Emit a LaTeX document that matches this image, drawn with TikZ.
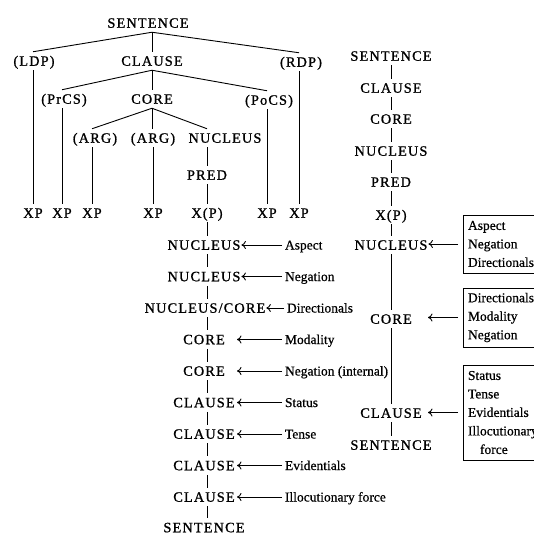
\documentclass[tikz,border=0pt]{standalone}
\usepackage{fontspec}
\setmainfont{Liberation Serif}[FakeBold=0.6]
\newfontfamily\capsfont[LetterSpace=8,FakeBold=1]{Liberation Serif}
\usetikzlibrary{arrows.meta}
\begin{document}
\begin{tikzpicture}[x=1pt,y=-1pt,line width=0.9pt,
  cat/.style={font=\capsfont\fontsize{14.3}{16}\selectfont, inner sep=0pt,
    text height=9.5pt, text depth=0pt, outer xsep=1pt, outer ysep=4.5pt},
  lchain/.style={cat, minimum width=64pt},
  rchain/.style={cat, minimum width=72pt},
  lab/.style={font=\fontsize{13.5}{15}\selectfont, inner sep=0pt,
    text height=9pt, text depth=0pt, outer xsep=3pt, anchor=west},
  listbox/.style={draw, font=\fontsize{13.5}{18.5}\selectfont, align=left,
    text width=76pt, inner xsep=5pt, inner ysep=0pt, outer xsep=5pt, anchor=west},
  arr/.style={-{Computer Modern Rightarrow[length=4.5pt,width=8pt]}}]
\useasboundingbox (0,0) rectangle (534,534);

% ---------- layered clause structure ----------
\node[cat] (ls) at (148,23) {SENTENCE};
\node[cat] (ldp) at (34,61) {(LDP)};
\node[cat] (lcl) at (152,61) {CLAUSE};
\node[cat] (rdp) at (301,62) {(RDP)};
\node[cat] (prcs) at (64,99) {(PrCS)};
\node[cat] (lcore) at (152,99) {CORE};
\node[cat] (pocs) at (269,100) {(PoCS)};
\node[cat] (arg1) at (95,138) {(ARG)};
\node[cat] (arg2) at (153,138) {(ARG)};
\node[cat] (lnuc) at (225,138) {NUCLEUS};
\node[cat] (pred) at (207,175) {PRED};
\node[cat] (xp1) at (33,213) {XP};
\node[cat] (xp2) at (62,213) {XP};
\node[cat] (xp3) at (92,213) {XP};
\node[cat] (xp4) at (153,213) {XP};
\node[cat] (xpp) at (207,213) {X(P)};
\node[cat] (xp5) at (267,213) {XP};
\node[cat] (xp6) at (299,213) {XP};

\draw (ls.south -| lcl.north) -- (xp1.north |- ldp.north);
\draw (ls.south -| lcl.north) -- (lcl.north);
\draw (ls.south -| lcl.north) -- (xp6.north |- rdp.north);
\draw (lcl.south) -- (xp2.north |- prcs.north);
\draw (lcl.south) -- (lcore.north);
\draw (lcl.south) -- (xp5.north |- pocs.north);
\draw (lcore.south) -- (xp3.north |- arg1.north);
\draw (lcore.south) -- (arg2.north -| lcore.south);
\draw (lcore.south) -- (pred.north |- lnuc.north);
\draw (pred.north) -- (pred.north |- lnuc.south);
\draw (xp1.north) -- (xp1.north |- ldp.south);
\draw (xp2.north) -- (xp2.north |- prcs.south);
\draw (xp3.north) -- (xp3.north |- arg1.south);
\draw (xp4.north) -- (xp4.north |- arg2.south);
\draw (xpp.north) -- (pred.south);
\draw (xp5.north) -- (xp5.north |- pocs.south);
\draw (xp6.north) -- (xp6.north |- rdp.south);

% ---------- operator projection, one operator per level ----------
\node[lchain] (c1) at (204,245) {NUCLEUS};
\node[lchain] (c2) at (204,276.5) {NUCLEUS};
\node[lchain] (c3) at (205,308) {NUCLEUS/CORE};
\node[lchain] (c4) at (204,339.5) {CORE};
\node[lchain] (c5) at (204,371) {CORE};
\node[lchain] (c6) at (204,402.5) {CLAUSE};
\node[lchain] (c7) at (204,434) {CLAUSE};
\node[lchain] (c8) at (204,465.5) {CLAUSE};
\node[lchain] (c9) at (204,497) {CLAUSE};
\node[cat] (c10) at (204,527.5) {SENTENCE};

\draw (xpp.south) -- (c1.north -| xpp.south);
\foreach \a/\b in {c1/c2,c2/c3,c3/c4,c4/c5,c5/c6,c6/c7,c7/c8,c8/c9,c9/c10}
  \draw (\a.south -| xpp.south) -- (\b.north -| xpp.south);

\node[lab] (o1) at (282,245) {Aspect};
\node[lab] (o2) at (282,276.5) {Negation};
\node[lab] (o3) at (284,308) {Directionals};
\node[lab] (o4) at (282,339.5) {Modality};
\node[lab] (o5) at (282,371) {Negation (internal)};
\node[lab] (o6) at (282,402.5) {Status};
\node[lab] (o7) at (282,434) {Tense};
\node[lab] (o8) at (282,465.5) {Evidentials};
\node[lab] (o9) at (282,497) {Illocutionary force};
\foreach \i in {1,...,9}
  \draw[arr] (o\i.west) -- (o\i.west -| c\i.east);

% ---------- operator projection, grouped by level ----------
\node[cat] (rs) at (391,56) {SENTENCE};
\node[cat] (rcl) at (391,88) {CLAUSE};
\node[cat] (rcore) at (391,119) {CORE};
\node[cat] (rnuc) at (391,151) {NUCLEUS};
\node[cat] (rpred) at (391,182) {PRED};
\node[cat] (rxp) at (391,215) {X(P)};
\node[rchain] (rnuc2) at (391,245) {NUCLEUS};
\node[rchain] (rcore2) at (391,319) {CORE};
\node[rchain] (rcl2) at (391,413) {CLAUSE};
\node[cat] (rs2) at (391,445) {SENTENCE};

\foreach \a/\b in {rs/rcl,rcl/rcore,rcore/rnuc,rnuc/rpred,rpred/rxp,rxp/rnuc2,rnuc2/rcore2,rcore2/rcl2,rcl2/rs2}
  \draw (\a.south) -- (\b.north);

\node[listbox, minimum height=58pt] (b1) at (458,244) {Aspect\\Negation\\Directionals};
\node[listbox, minimum height=59pt] (b2) at (458,317.5) {Directionals\\Modality\\Negation};
\node[listbox, minimum height=95pt] (b3) at (458,412.5) {Status\\Tense\\Evidentials\\Illocutionary\\\hspace*{12pt}force};

\draw[arr] (b1.west) -- (b1.west -| rnuc2.east);
\draw[arr] (b2.west) -- (b2.west -| rcore2.east);
\draw[arr] (b3.west) -- (b3.west -| rcl2.east);
\end{tikzpicture}
\end{document}
